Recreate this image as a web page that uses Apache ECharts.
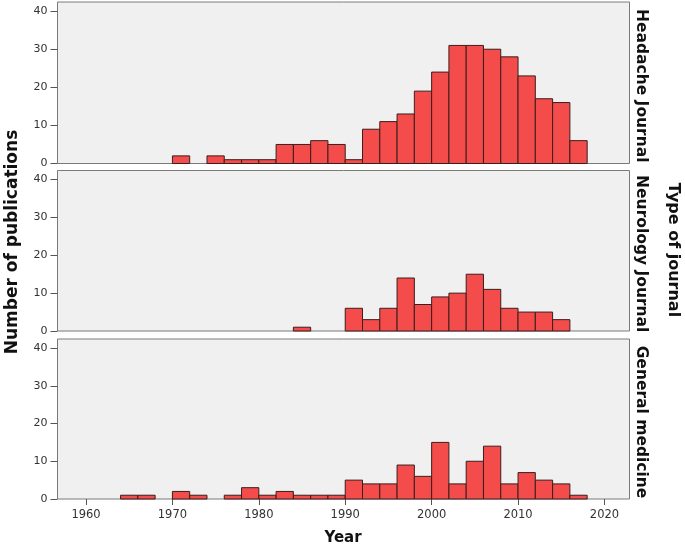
<!DOCTYPE html>
<html>
<head>
<meta charset="utf-8">
<script src="https://cdn.jsdelivr.net/npm/echarts@6/dist/echarts.min.js"></script>
<style>html,body{margin:0;padding:0;background:#fff;}#c{width:685px;height:547px;}</style>
</head>
<body>
<div id="c"></div>
<script>
const binWidth = 2;
const binStarts = [1964,1966,1968,1970,1972,1974,1976,1978,1980,1982,1984,1986,1988,1990,1992,1994,1996,1998,2000,2002,2004,2006,2008,2010,2012,2014,2016];
const headache = [0,0,0,2,0,2,1,1,1,5,5,6,5,1,9,11,13,19,24,31,31,30,28,23,17,16,6];
const neurology = [0,0,0,0,0,0,0,0,0,0,1,0,0,6,3,6,14,7,9,10,15,11,6,5,5,3,0];
const general = [1,1,0,2,1,0,1,3,1,2,1,1,1,5,4,4,9,6,15,4,10,14,4,7,5,4,1];
const panelNames = ['Headache Journal','Neurology Journal','General medicine'];
const yTicks = [0,10,20,30,40];
const xTicks = [1960,1970,1980,1990,2000,2010,2020];

const chart = echarts.init(document.getElementById('c'), null, {renderer:'canvas'});
const series = [headache, neurology, general];
const grids = [
  {left:57.5, width:572, top:2, height:161.5},
  {left:57.5, width:572, top:170.5, height:160.5},
  {left:57.5, width:572, top:339, height:160}
];
const font = 'DejaVu Sans';
const xAxes = grids.map((g,i)=>({
  type:'value', gridIndex:i, min:1956.7, max:2022.9,
  axisLine:{show:false}, splitLine:{show:false},
  axisTick:{show:i===2, length:6, lineStyle:{color:'#555'}, customValues:xTicks},
  axisLabel:{show:i===2, customValues:xTicks, color:'#333', fontFamily:font, fontSize:11.5, margin:10,
    formatter:function(v){return String(v);}}
}));
const yAxes = grids.map((g,i)=>({
  type:'value', gridIndex:i, min:0, max:42.4,
  axisLine:{show:false}, splitLine:{show:false},
  axisTick:{show:true, length:7, lineStyle:{color:'#555'}, customValues:yTicks},
  axisLabel:{customValues:yTicks, color:'#333', fontFamily:font, fontSize:11, margin:10,
    formatter:function(v){return String(v);}}
}));
const seriesOpts = series.map((vals,i)=>({
  type:'custom', xAxisIndex:i, yAxisIndex:i,
  data: binStarts.map((s,k)=>[s, s+binWidth, vals[k]]).filter(d=>d[2]>0),
  encode:{x:[0,1], y:2},
  renderItem:function(params, api){
    const p0 = api.coord([api.value(0), 0]);
    const p1 = api.coord([api.value(1), api.value(2)]);
    return {type:'rect', shape:{x:p0[0], y:p1[1], width:p1[0]-p0[0], height:p0[1]-p1[1]},
      style:{fill:'#f44b4b', stroke:'#3b1e1e', lineWidth:1}};
  }
}));
const graphics = [];
grids.forEach((g,i)=>{
  graphics.push({type:'text', x:641, y:g.top+g.height/2+3, rotation:-Math.PI/2,
    style:{text:panelNames[i], fill:'#111', font:'bold 15.5px "DejaVu Sans"', textAlign:'center', textVerticalAlign:'middle'}});
});
graphics.push({type:'text', x:673, y:250, rotation:-Math.PI/2,
  style:{text:'Type of journal', fill:'#111', font:'bold 16px "DejaVu Sans"', textAlign:'center', textVerticalAlign:'middle'}});
graphics.push({type:'text', x:13, y:242, rotation:Math.PI/2,
  style:{text:'Number of publications', fill:'#111', font:'bold 17px "DejaVu Sans"', textAlign:'center', textVerticalAlign:'middle'}});
graphics.push({type:'text', x:343, y:538,
  style:{text:'Year', fill:'#111', font:'bold 15px "DejaVu Sans"', textAlign:'center', textVerticalAlign:'middle'}});

chart.setOption({
  animation:false,
  backgroundColor:'#fff',
  grid: grids.map(g=>Object.assign({show:true, backgroundColor:'#f0f0f0', borderColor:'#7a7a7a', borderWidth:1}, g)),
  xAxis:xAxes, yAxis:yAxes, series:seriesOpts, graphic:graphics
});
</script>
</body>
</html>
